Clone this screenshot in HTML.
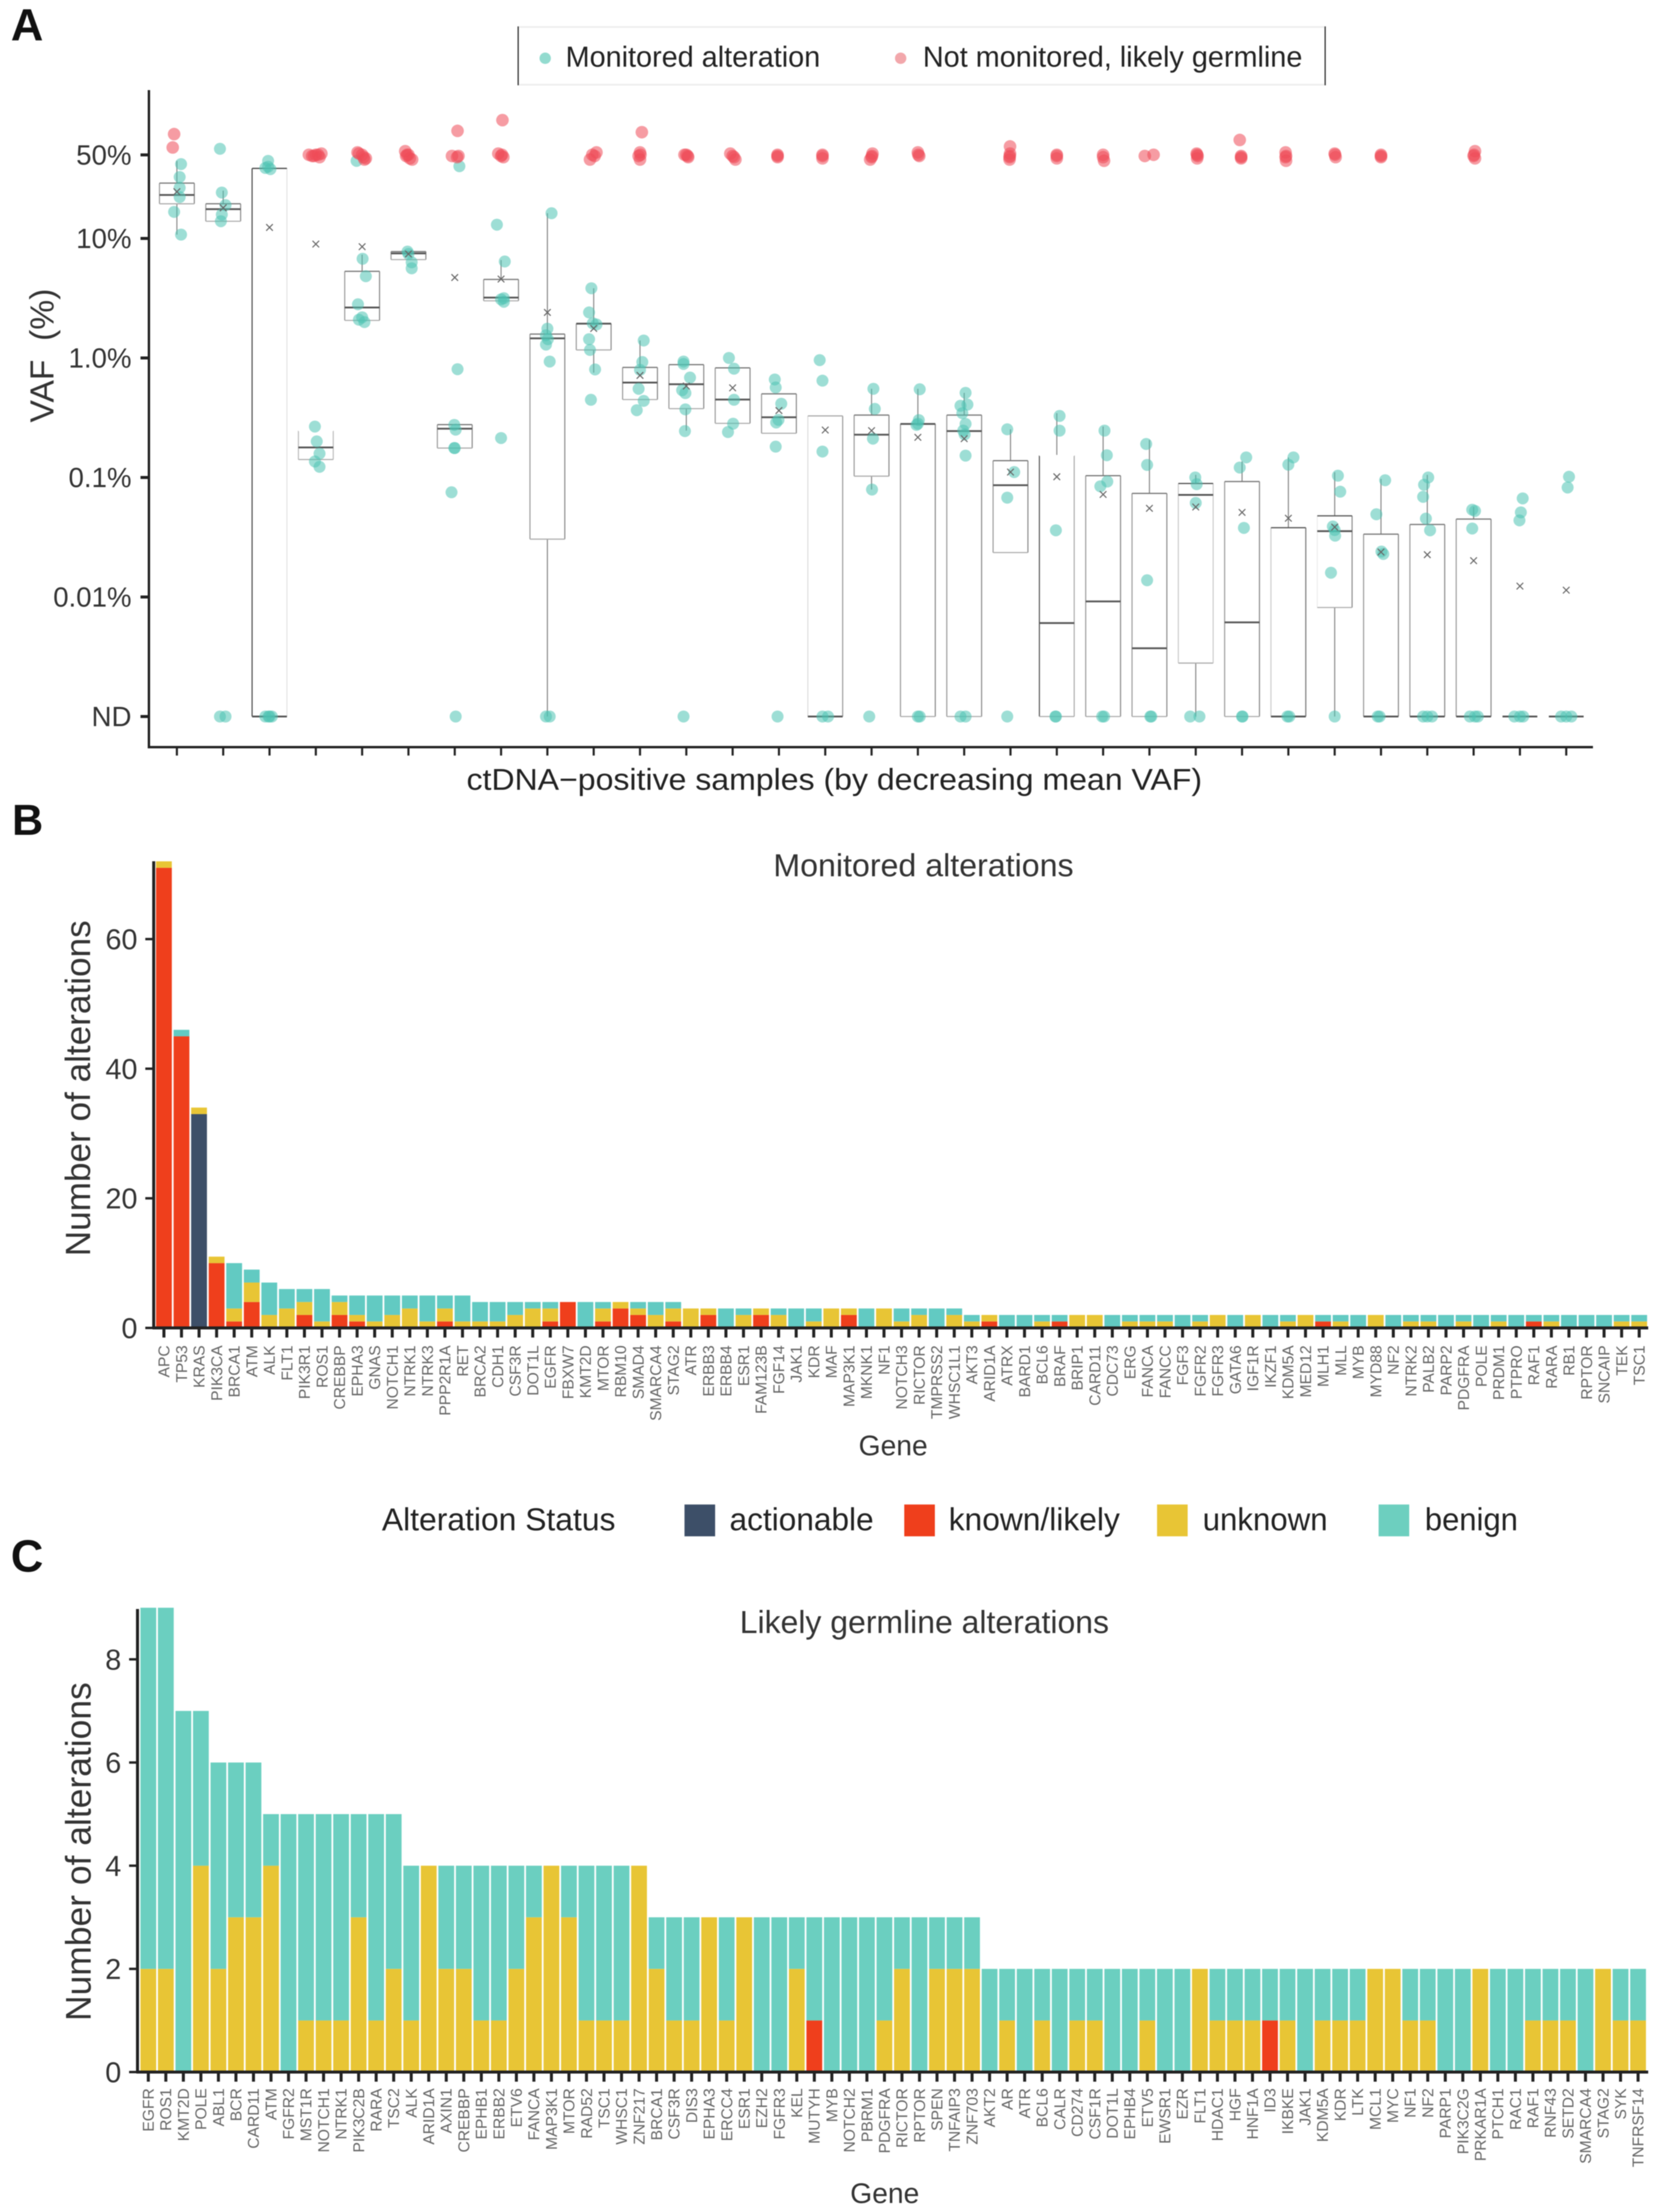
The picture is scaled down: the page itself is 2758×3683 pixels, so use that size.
<!DOCTYPE html>
<html lang="en">
<head>
<meta charset="utf-8">
<title>ctDNA alterations figure</title>
<style>
html,body{margin:0;padding:0;background:#fff}
svg{display:block;filter:blur(0.9px)}
text{font-family:"Liberation Sans",Arial,sans-serif}
</style>
</head>
<body>
<svg id="figure" xmlns="http://www.w3.org/2000/svg" width="2758" height="3683" viewBox="0 0 2758 3683">
<rect x="0" y="0" width="2758" height="3683" fill="#fff"/>

<text x="18" y="67" font-size="75" font-weight="700" fill="#111">A</text>
<text x="20" y="1390" font-size="72" font-weight="700" fill="#111">B</text>
<text x="18" y="2617" font-size="75" font-weight="700" fill="#111">C</text>

<g>
  <rect x="863" y="45" width="1344" height="96" fill="#fff" stroke="#eee" stroke-width="3"/>
  <line x1="863" y1="44" x2="863" y2="142" stroke="#333" stroke-width="2"/>
  <line x1="2207" y1="44" x2="2207" y2="142" stroke="#333" stroke-width="2"/>
  <circle cx="908" cy="97" r="9.5" fill="#6fcfbf" fill-opacity=".75"/>
  <text x="942" y="111" font-size="48" textLength="424" lengthAdjust="spacingAndGlyphs" fill="#222">Monitored alteration</text>
  <circle cx="1500" cy="97" r="9.5" fill="#ee8a8f" fill-opacity=".75"/>
  <text x="1537" y="111" font-size="48" textLength="632" lengthAdjust="spacingAndGlyphs" fill="#222">Not monitored, likely germline</text>
</g>

<g id="panel-a"></g>
<text transform="translate(89 592) rotate(-90)" text-anchor="middle" font-size="56" fill="#333" style="white-space:pre">VAF  (%)</text>
<text x="777" y="1315" font-size="50" textLength="1225" lengthAdjust="spacingAndGlyphs" fill="#222">ctDNA−positive samples (by decreasing mean VAF)</text>

<g id="panel-b"></g>
<text x="1288" y="1459" font-size="53" textLength="500" lengthAdjust="spacingAndGlyphs" fill="#333">Monitored alterations</text>
<text transform="translate(150 1812) rotate(-90)" text-anchor="middle" font-size="58.5" fill="#333">Number of alterations</text>
<text x="1430" y="2423" font-size="47" textLength="115" lengthAdjust="spacingAndGlyphs" fill="#333">Gene</text>

<g>
  <text x="636" y="2548" font-size="53" textLength="389" lengthAdjust="spacingAndGlyphs" fill="#222">Alteration Status</text>
  <rect x="1140" y="2505" width="51" height="53" fill="#3d4f68"/>
  <text x="1215" y="2548" font-size="53" textLength="240" lengthAdjust="spacingAndGlyphs" fill="#222">actionable</text>
  <rect x="1506" y="2505" width="51" height="53" fill="#ef3f1c"/>
  <text x="1580" y="2548" font-size="53" textLength="285" lengthAdjust="spacingAndGlyphs" fill="#222">known/likely</text>
  <rect x="1927" y="2505" width="51" height="53" fill="#e8c535"/>
  <text x="2003" y="2548" font-size="53" textLength="208" lengthAdjust="spacingAndGlyphs" fill="#222">unknown</text>
  <rect x="2296" y="2505" width="51" height="53" fill="#6dcfbf"/>
  <text x="2373" y="2548" font-size="53" textLength="155" lengthAdjust="spacingAndGlyphs" fill="#222">benign</text>
</g>

<g id="panel-c"></g>
<text x="1232" y="2719" font-size="53" textLength="615" lengthAdjust="spacingAndGlyphs" fill="#333">Likely germline alterations</text>
<text transform="translate(151 3083) rotate(-90)" text-anchor="middle" font-size="59" fill="#333">Number of alterations</text>
<text x="1416" y="3668" font-size="47" textLength="115" lengthAdjust="spacingAndGlyphs" fill="#333">Gene</text>
</svg>

<script>
// ---------- Panel A data: all values are log10(VAF %), ND plotted at -3 ----------
const vafTickLabels = ['50%', '10%', '1.0%', '0.1%', '0.01%', 'ND'];
const vafTickValues = [1.699, 1, 0, -1, -2, -3];
const sampleCount = 31;

const boxQ3 = [1.463,1.29,1.586,-.608,.725,.89,-.558,.657,.2,.287,-.079,-.056,-.083,-.3,-.485,-.478,-.552,-.478,-.859,-.816,-.985,-1.133,-1.05,-1.034,-1.42,-1.321,-1.474,-1.393,-1.348,-3,-3];
const boxMedian = [1.364,1.245,-3,-.749,.422,.875,-.592,.505,.164,.287,-.206,-.22,-.348,-.496,-3,-.642,-.552,-.612,-1.065,-2.218,-2.037,-2.429,-1.146,-2.212,-3,-1.449,-3,-3,-3,-3,-3];
const boxQ1 = [1.29,1.144,-3,-.85,.314,.823,-.754,.478,-1.516,.067,-.348,-.424,-.547,-.63,-3,-.989,-3,-3,-1.628,-3,-3,-3,-2.553,-3,-3,-2.088,-3,-3,-3,-3,-3];
const whiskerHigh = [1.649,1.4,1.586,-.608,.864,.89,-.558,.819,1.211,.583,.146,-.056,-.083,-.3,-.485,-.258,-.258,-.292,-.597,-.462,-.574,-.686,-.978,-.866,-.832,-.956,-1.012,-.978,-1.247,-3,-3];
const whiskerLow = [1.032,1.144,-3,-.85,.314,.823,-.754,.478,-3,-.123,-.348,-.608,-.547,-.63,-3,-1.101,-3,-3,-1.628,-3,-3,-3,-3,-3,-3,-3,-3,-3,-3,-3,-3];
const meanVaf = [1.391,1.256,1.092,.953,.931,.87,.673,.66,.381,.247,-.146,-.235,-.25,-.44,-.603,-.608,-.664,-.675,-.955,-.994,-1.142,-1.258,-1.247,-1.292,-1.341,-1.415,-1.624,-1.646,-1.696,-1.909,-1.943];

const monitoredVaf = [
[1.622,1.514,1.424,1.346,1.222,1.032],
[1.75,1.384,1.279,1.2,1.144,-3,-3],
[1.649,1.59,1.58,1.6,-3,-3,-3,-3],
[-.574,-.698,-.8,-.866,-.911],
[1.649,.83,.684,.449,.32,.3,.34],
[.89,.87,.8,.75],
[1.604,-.094,-.56,-.6,-.754,-.754,-1.124,-3],
[1.115,.807,.49,.5,.47,-.67],
[1.211,.245,.19,.157,.112,-.03,-3,-3],
[.583,.381,.29,.28,.157,.067,-.096,-.35],
[.146,-.034,-.1,-.258,-.359,-.437],
[-.03,-.05,-.164,-.27,-.294,-.43,-.612,-3],
[0,-.09,-.35,-.55,-.62],
[-.18,-.247,-.383,-.518,-.54,-.742,-3],
[-.018,-.19,-.783,-3,-3],
[-.258,-.426,-.675,-1.101,-3],
[-.262,-.52,-.55,-.56,-3,-3],
[-.292,-.39,-.4,-.462,-.552,-.608,-.64,-.817,-3,-3],
[-.597,-.955,-1.169,-3],
[-.485,-.608,-1.442,-3,-3],
[-.608,-.814,-1.034,-1.074,-3,-3],
[-.72,-.895,-1.86,-3,-3],
[-1,-1.056,-1.213,-3,-3],
[-.832,-.917,-1.422,-3,-3],
[-.832,-.893,-3,-3],
[-.985,-1.119,-1.41,-1.44,-1.487,-1.797,-3],
[-1.023,-1.308,-1.64,-1.62,-3,-3],
[-1,-1.061,-1.162,-1.344,-1.442,-3,-3,-3],
[-1.27,-1.28,-1.427,-3,-3,-3],
[-1.175,-1.292,-1.359,-3,-3,-3],
[-.994,-1.084,-3,-3,-3]
];
// horizontal jitter, in fractions of one sample slot
const monitoredJitter = [
[.09,.06,.06,.06,-.06,.09],
[-.07,-.03,.05,-.03,-.05,-.07,.05],
[-.03,-.09,.02,-.03,-.09,-.02,.05,0],
[-.02,.02,.08,-.02,.08],
[-.12,.01,.08,-.09,-.07,.05,0],
[-.02,0,.07,.07],
[.1,.06,-.01,.02,-.01,0,-.07,.02],
[-.09,.08,0,.06,.06,0],
[.09,0,-.03,.01,-.03,.05,-.03,.05],
[-.05,-.1,-.02,.06,-.1,-.08,.03,-.06],
[.08,.05,0,-.03,.08,-.07],
[-.06,-.06,.08,-.09,-.02,-.02,-.03,-.06],
[-.08,.03,.03,.01,-.1],
[-.09,-.07,.05,-.01,-.06,-.07,-.03],
[-.12,-.06,-.06,-.06,.06],
[.04,.07,.03,.01,-.05],
[.04,.02,0,-.03,0,.04],
[.03,.07,-.08,-.04,.03,-.02,.01,.03,-.08,.03],
[-.07,.08,-.07,-.07],
[.06,.06,-.02,-.03,-.02],
[.03,.08,.09,-.06,-.02,.02],
[-.07,-.05,-.05,.02,.04],
[-.01,.02,0,-.12,.08],
[.09,-.05,.04,.01,0],
[.11,0,-.02,.02],
[.07,.12,-.04,0,.01,-.08,0],
[.09,-.1,.05,.01,-.07,-.03],
[.02,-.07,-.09,-.03,.06,-.09,0,.1],
[-.03,.03,-.03,-.08,.03,.09],
[.06,.02,-.01,-.12,0,.07],
[.06,.03,-.11,0,.11]
];
const germlineVaf = [
[1.873,1.761],[],[],
[1.7,1.69,1.7,1.68,1.71,1.69,1.7],
[1.72,1.68,1.66,1.7,1.67,1.71],
[1.73,1.7,1.67,1.66,1.7,1.69],
[1.9,1.69,1.69,1.68],
[1.99,1.71,1.68,1.69,1.7],
[],
[1.66,1.7,1.72,1.69],
[1.889,1.72,1.69,1.66,1.7],
[1.7,1.69,1.68,1.7],
[1.71,1.69,1.66,1.68],
[1.7,1.68,1.69],
[1.7,1.67,1.69],
[1.71,1.68,1.66,1.69],
[1.72,1.69,1.7],
[],
[1.77,1.71,1.68,1.66,1.69],
[1.7,1.67,1.69],
[1.7,1.65,1.68],
[1.69,1.7],
[1.71,1.69,1.67,1.7],
[1.824,1.69,1.67,1.68],
[1.72,1.68,1.65,1.69],
[1.71,1.68,1.7],
[1.7,1.68,1.69],
[],
[1.73,1.69,1.67,1.7],
[],[]
];
const germlineJitter = [
[-.06,-.09],[],[],
[-.15,-.08,0,.08,.12,-.04,.05],
[-.1,.03,.05,0,.08,-.07],
[-.07,-.03,.03,.08,0,-.05],
[.06,-.06,.08,.05],
[.03,-.06,.05,0,.02],
[],
[-.08,-.03,.06,.02],
[.04,0,-.03,0,.01],
[-.04,.03,.04,0],
[-.05,0,.06,.03],
[-.03,-.03,-.03],
[-.06,-.06,-.06],
[.02,0,-.03,.01],
[0,.03,.01],
[],
[-.01,-.01,-.02,-.02,-.015],
[0,0,0],
[0,.02,0],
[-.1,.09],
[.02,.04,.03,.03],
[-.05,-.02,-.02,-.02],
[-.06,-.06,-.05,-.05],
[0,.02,.01],
[0,0,0],
[],
[.03,0,.03,.01],
[],[]
];

// ---------- Panel B data ----------
const monitoredGenes = ['APC','TP53','KRAS','PIK3CA','BRCA1','ATM','ALK','FLT1','PIK3R1','ROS1','CREBBP','EPHA3','GNAS','NOTCH1','NTRK1','NTRK3','PPP2R1A','RET','BRCA2','CDH1','CSF3R','DOT1L','EGFR','FBXW7','KMT2D','MTOR','RBM10','SMAD4','SMARCA4','STAG2','ATR','ERBB3','ERBB4','ESR1','FAM123B','FGF14','JAK1','KDR','MAF','MAP3K1','MKNK1','NF1','NOTCH3','RICTOR','TMPRSS2','WHSC1L1','AKT3','ARID1A','ATRX','BARD1','BCL6','BRAF','BRIP1','CARD11','CDC73','ERG','FANCA','FANCC','FGF3','FGFR2','FGFR3','GATA6','IGF1R','IKZF1','KDM5A','MED12','MLH1','MLL','MYB','MYD88','NF2','NTRK2','PALB2','PARP2','PDGFRA','POLE','PRDM1','PTPRO','RAF1','RARA','RB1','RPTOR','SNCAIP','TEK','TSC1'];
const monitoredActionable = [0,0,33,0,0,0,0,0,0,0, 0,0,0,0,0,0,0,0,0,0, 0,0,0,0,0,0,0,0,0,0, 0,0,0,0,0,0,0,0,0,0, 0,0,0,0,0,0,0,0,0,0, 0,0,0,0,0,0,0,0,0,0, 0,0,0,0,0,0,0,0,0,0, 0,0,0,0,0,0,0,0,0,0, 0,0,0,0,0];
const monitoredKnown = [71,45,0,10,1,4,0,0,2,0, 2,1,0,0,0,0,1,0,0,0, 0,0,1,4,0,1,3,2,0,1, 0,2,0,0,2,0,0,0,0,2, 0,0,0,0,0,0,0,1,0,0, 0,1,0,0,0,0,0,0,0,0, 0,0,0,0,0,0,1,0,0,0, 0,0,0,0,0,0,0,0,1,0, 0,0,0,0,0];
const monitoredUnknown = [1,0,1,1,2,3,2,3,2,1, 2,1,1,2,3,1,2,1,1,1, 2,3,2,0,0,2,1,1,2,2, 3,1,0,2,1,2,0,1,3,1, 0,3,1,2,0,2,1,1,0,0, 1,0,2,2,0,1,1,1,0,1, 2,0,2,0,1,2,0,1,0,2, 0,1,1,0,1,0,1,0,0,1, 0,0,0,1,1];
const monitoredBenign = [0,1,0,0,7,2,5,3,2,5, 1,3,4,3,2,4,2,4,3,3, 2,1,1,0,4,1,0,1,2,1, 0,0,3,1,0,1,3,2,0,0, 3,0,2,1,3,1,1,0,2,2, 1,1,0,0,2,1,1,1,2,1, 0,2,0,2,1,0,1,1,2,0, 2,1,1,2,1,2,1,2,1,1, 2,2,2,1,1];
const monitoredTicks = [0, 20, 40, 60];

// ---------- Panel C data ----------
const germlineGenes = ['EGFR','ROS1','KMT2D','POLE','ABL1','BCR','CARD11','ATM','FGFR2','MST1R','NOTCH1','NTRK1','PIK3C2B','RARA','TSC2','ALK','ARID1A','AXIN1','CREBBP','EPHB1','ERBB2','ETV6','FANCA','MAP3K1','MTOR','RAD52','TSC1','WHSC1','ZNF217','BRCA1','CSF3R','DIS3','EPHA3','ERCC4','ESR1','EZH2','FGFR3','KEL','MUTYH','MYB','NOTCH2','PBRM1','PDGFRA','RICTOR','RPTOR','SPEN','TNFAIP3','ZNF703','AKT2','AR','ATR','BCL6','CALR','CD274','CSF1R','DOT1L','EPHB4','ETV5','EWSR1','EZR','FLT1','HDAC1','HGF','HNF1A','ID3','IKBKE','JAK1','KDM5A','KDR','LTK','MCL1','MYC','NF1','NF2','PARP1','PIK3C2G','PRKAR1A','PTCH1','RAC1','RAF1','RNF43','SETD2','SMARCA4','STAG2','SYK','TNFRSF14'];
const germlineKnown = [0,0,0,0,0,0,0,0,0,0, 0,0,0,0,0,0,0,0,0,0, 0,0,0,0,0,0,0,0,0,0, 0,0,0,0,0,0,0,0,1,0, 0,0,0,0,0,0,0,0,0,0, 0,0,0,0,0,0,0,0,0,0, 0,0,0,0,1,0,0,0,0,0, 0,0,0,0,0,0,0,0,0,0, 0,0,0,0,0,0];
const germlineUnknown = [2,2,0,4,2,3,3,4,0,1, 1,1,3,1,2,1,4,2,2,1, 1,2,3,4,3,1,1,1,4,2, 1,1,3,1,3,0,0,2,0,0, 0,0,1,2,0,2,2,2,0,1, 0,1,0,1,1,0,0,1,0,0, 2,1,1,1,0,1,0,1,1,1, 2,2,1,1,0,0,2,0,0,1, 1,1,0,2,1,1];
const germlineBenign = [7,7,7,3,4,3,3,1,5,4, 4,4,2,4,3,3,0,2,2,3, 3,2,1,0,1,3,3,3,0,1, 2,2,0,2,0,3,3,1,2,3, 3,3,2,1,3,1,1,1,2,1, 2,1,2,1,1,2,2,1,2,2, 0,1,1,1,1,1,2,1,1,1, 0,0,1,1,2,2,0,2,2,1, 1,1,2,0,1,1];
const germlineTicks = [0, 2, 4, 6, 8];

// ---------- Drawing ----------
const SVG_NS = 'http://www.w3.org/2000/svg';
const COLORS = {actionable:'#3d4f68', known:'#ef3f1c', unknown:'#e8c535', benign:'#68cdbe'};
const INK = '#222';

function mk(parent, tag, attrs, text) {
  const el = document.createElementNS(SVG_NS, tag);
  for (const k in attrs) el.setAttribute(k, attrs[k]);
  if (text !== undefined) el.textContent = text;
  parent.appendChild(el);
  return el;
}

// --- Panel A ---
(function () {
  const g = document.getElementById('panel-a');
  const axisLeft = 248, axisRight = 2653, axisBottom = 1244, axisTop = 150;
  const x0 = 294.6, step = 77.13, boxW = 58;
  const xA = i => x0 + step * i;
  const yA = v => 596 - 199 * v;
  // edge tones seen in the reference: [left, right, top]
  const edgeTones = {2:['#444','#e4e4e4','#444'], 3:['#bbb','#bbb','#fff'], 14:['#ddd','#999','#aaa'], 19:['#555','#aaa','#fff'], 22:['#ccc','#ccc','#555'], 24:['#ccc','#777','#555'], 25:['#eee','#888','#555']};

  for (let i = 0; i < sampleCount; i++) {
    const cx = xA(i);
    const hasBox = boxQ3[i] !== boxQ1[i];
    if (hasBox) {
      const wu = mk(g, 'line', {x1:cx, x2:cx, y1:yA(whiskerHigh[i]), y2:yA(boxQ3[i]), stroke:'#888', 'stroke-width':1.8});
      
      
      const wl = mk(g, 'line', {x1:cx, x2:cx, y1:yA(boxQ1[i]), y2:yA(whiskerLow[i]), stroke:'#888', 'stroke-width':1.8});
      
      
      const tones = edgeTones[i] || ['#999','#888','#777'];
      const left = mk(g, 'line', {x1:cx - boxW / 2, x2:cx - boxW / 2, y1:yA(boxQ3[i]), y2:yA(boxQ1[i]), stroke:tones[0], 'stroke-width':1.8});
      
      
      const right = mk(g, 'line', {x1:cx + boxW / 2, x2:cx + boxW / 2, y1:yA(boxQ3[i]), y2:yA(boxQ1[i]), stroke:tones[1], 'stroke-width':1.8});
      
      
      const top = mk(g, 'line', {x1:cx - boxW / 2, x2:cx + boxW / 2, y1:yA(boxQ3[i]), y2:yA(boxQ3[i]), stroke:tones[2], 'stroke-width':2});
      
      
      const bottom = mk(g, 'line', {x1:cx - boxW / 2, x2:cx + boxW / 2, y1:yA(boxQ1[i]), y2:yA(boxQ1[i]), stroke:'#aaa', 'stroke-width':1.8});
      
      
    }
    const med = mk(g, 'line', {x1:cx - boxW / 2, x2:cx + boxW / 2, y1:yA(boxMedian[i]), y2:yA(boxMedian[i]), stroke:'#555', 'stroke-width':3});
    
    
  }

  for (let i = 0; i < sampleCount; i++) {
    monitoredVaf[i].forEach((v, j) => {
      const c = mk(g, 'circle', {cx:xA(i) + monitoredJitter[i][j] * step, cy:yA(v), r:10, fill:'#4cc3b2', 'fill-opacity':.55});
      
      
    });
    germlineVaf[i].forEach((v, j) => {
      const c = mk(g, 'circle', {cx:xA(i) + germlineJitter[i][j] * step, cy:yA(v), r:10.5, fill:'#ee4a58', 'fill-opacity':.55});
      
      
    });
    const mx = xA(i), my = yA(meanVaf[i]), s = 5.5;
    const mean = mk(g, 'path', {d:`M${mx - s} ${my - s}L${mx + s} ${my + s}M${mx - s} ${my + s}L${mx + s} ${my - s}`, stroke:'#666', 'stroke-width':1.8, fill:'none'});
    
    
  }

  const ya = mk(g, 'line', {x1:axisLeft, x2:axisLeft, y1:axisTop, y2:axisBottom + 2, stroke:INK, 'stroke-width':4});
  
  
  const xa = mk(g, 'line', {x1:axisLeft - 2, x2:axisRight, y1:axisBottom, y2:axisBottom, stroke:INK, 'stroke-width':4});
  
  

  vafTickValues.forEach((v, i) => {
    const t = mk(g, 'line', {x1:234, x2:axisLeft, y1:yA(v), y2:yA(v), stroke:INK, 'stroke-width':5});
    
    
    const l = mk(g, 'text', {x:219, y:yA(v) + 16, 'text-anchor':'end', 'font-size':46, fill:'#333'}, vafTickLabels[i]);
    
    
  });
  for (let i = 0; i < sampleCount; i++) {
    const t = mk(g, 'line', {x1:xA(i), x2:xA(i), y1:axisBottom, y2:axisBottom + 14, stroke:INK, 'stroke-width':3.5});
    
    
  }
})();

// --- Panels B and C ---
function drawBarPanel(g, genes, series, opts) {
  const xf = i => opts.x0 + opts.step * i;
  const yf = v => opts.zeroY - opts.unit * v;
  const barW = opts.step * 0.9;

  genes.forEach((gene, i) => {
    let base = 0;
    series.forEach(s => {
      const v = s.values[i];
      if (!v) return;
      const r = mk(g, 'rect', {x:xf(i) - barW / 2, y:yf(base + v), width:barW, height:opts.unit * v, fill:s.color || COLORS[s.key]});
      
      
      base += v;
    });
    const tick = mk(g, 'line', {x1:xf(i), x2:xf(i), y1:opts.zeroY, y2:opts.zeroY + 16, stroke:INK, 'stroke-width':5});
    
    
    const lab = mk(g, 'text', {transform:`translate(${xf(i) + 9} ${opts.labelY}) rotate(-90)`, 'text-anchor':'end', 'font-size':26, fill:'#666'}, gene);
    
    
  });

  const ya = mk(g, 'line', {x1:opts.axisX, x2:opts.axisX, y1:opts.axisTop, y2:opts.zeroY + 2, stroke:INK, 'stroke-width':5});
  
  
  const xa = mk(g, 'line', {x1:opts.axisX - 2, x2:2745, y1:opts.zeroY, y2:opts.zeroY, stroke:INK, 'stroke-width':5});
  
  

  opts.ticks.forEach(v => {
    const t = mk(g, 'line', {x1:opts.axisX - 14, x2:opts.axisX, y1:yf(v), y2:yf(v), stroke:INK, 'stroke-width':4});
    
    
    const l = mk(g, 'text', {x:opts.axisX - 27, y:yf(v) + 17, 'text-anchor':'end', 'font-size':48, fill:'#333'}, String(v));
    
    
  });
}

drawBarPanel(document.getElementById('panel-b'), monitoredGenes, [
  {key:'actionable', values:monitoredActionable},
  {key:'known', values:monitoredKnown},
  {key:'unknown', values:monitoredUnknown},
  {key:'benign', values:monitoredBenign, color:'#62cac2'}
], {x0:273, step:29.25, zeroY:2211, unit:10.79, axisX:256, axisTop:1434, labelY:2240, ticks:monitoredTicks});

drawBarPanel(document.getElementById('panel-c'), germlineGenes, [
  {key:'known', values:germlineKnown},
  {key:'unknown', values:germlineUnknown},
  {key:'benign', values:germlineBenign, color:'#6bcfc0'}
], {x0:247, step:29.19, zeroY:3450, unit:85.9, axisX:229, axisTop:2679, labelY:3477, ticks:germlineTicks});
</script>
</body>
</html>
